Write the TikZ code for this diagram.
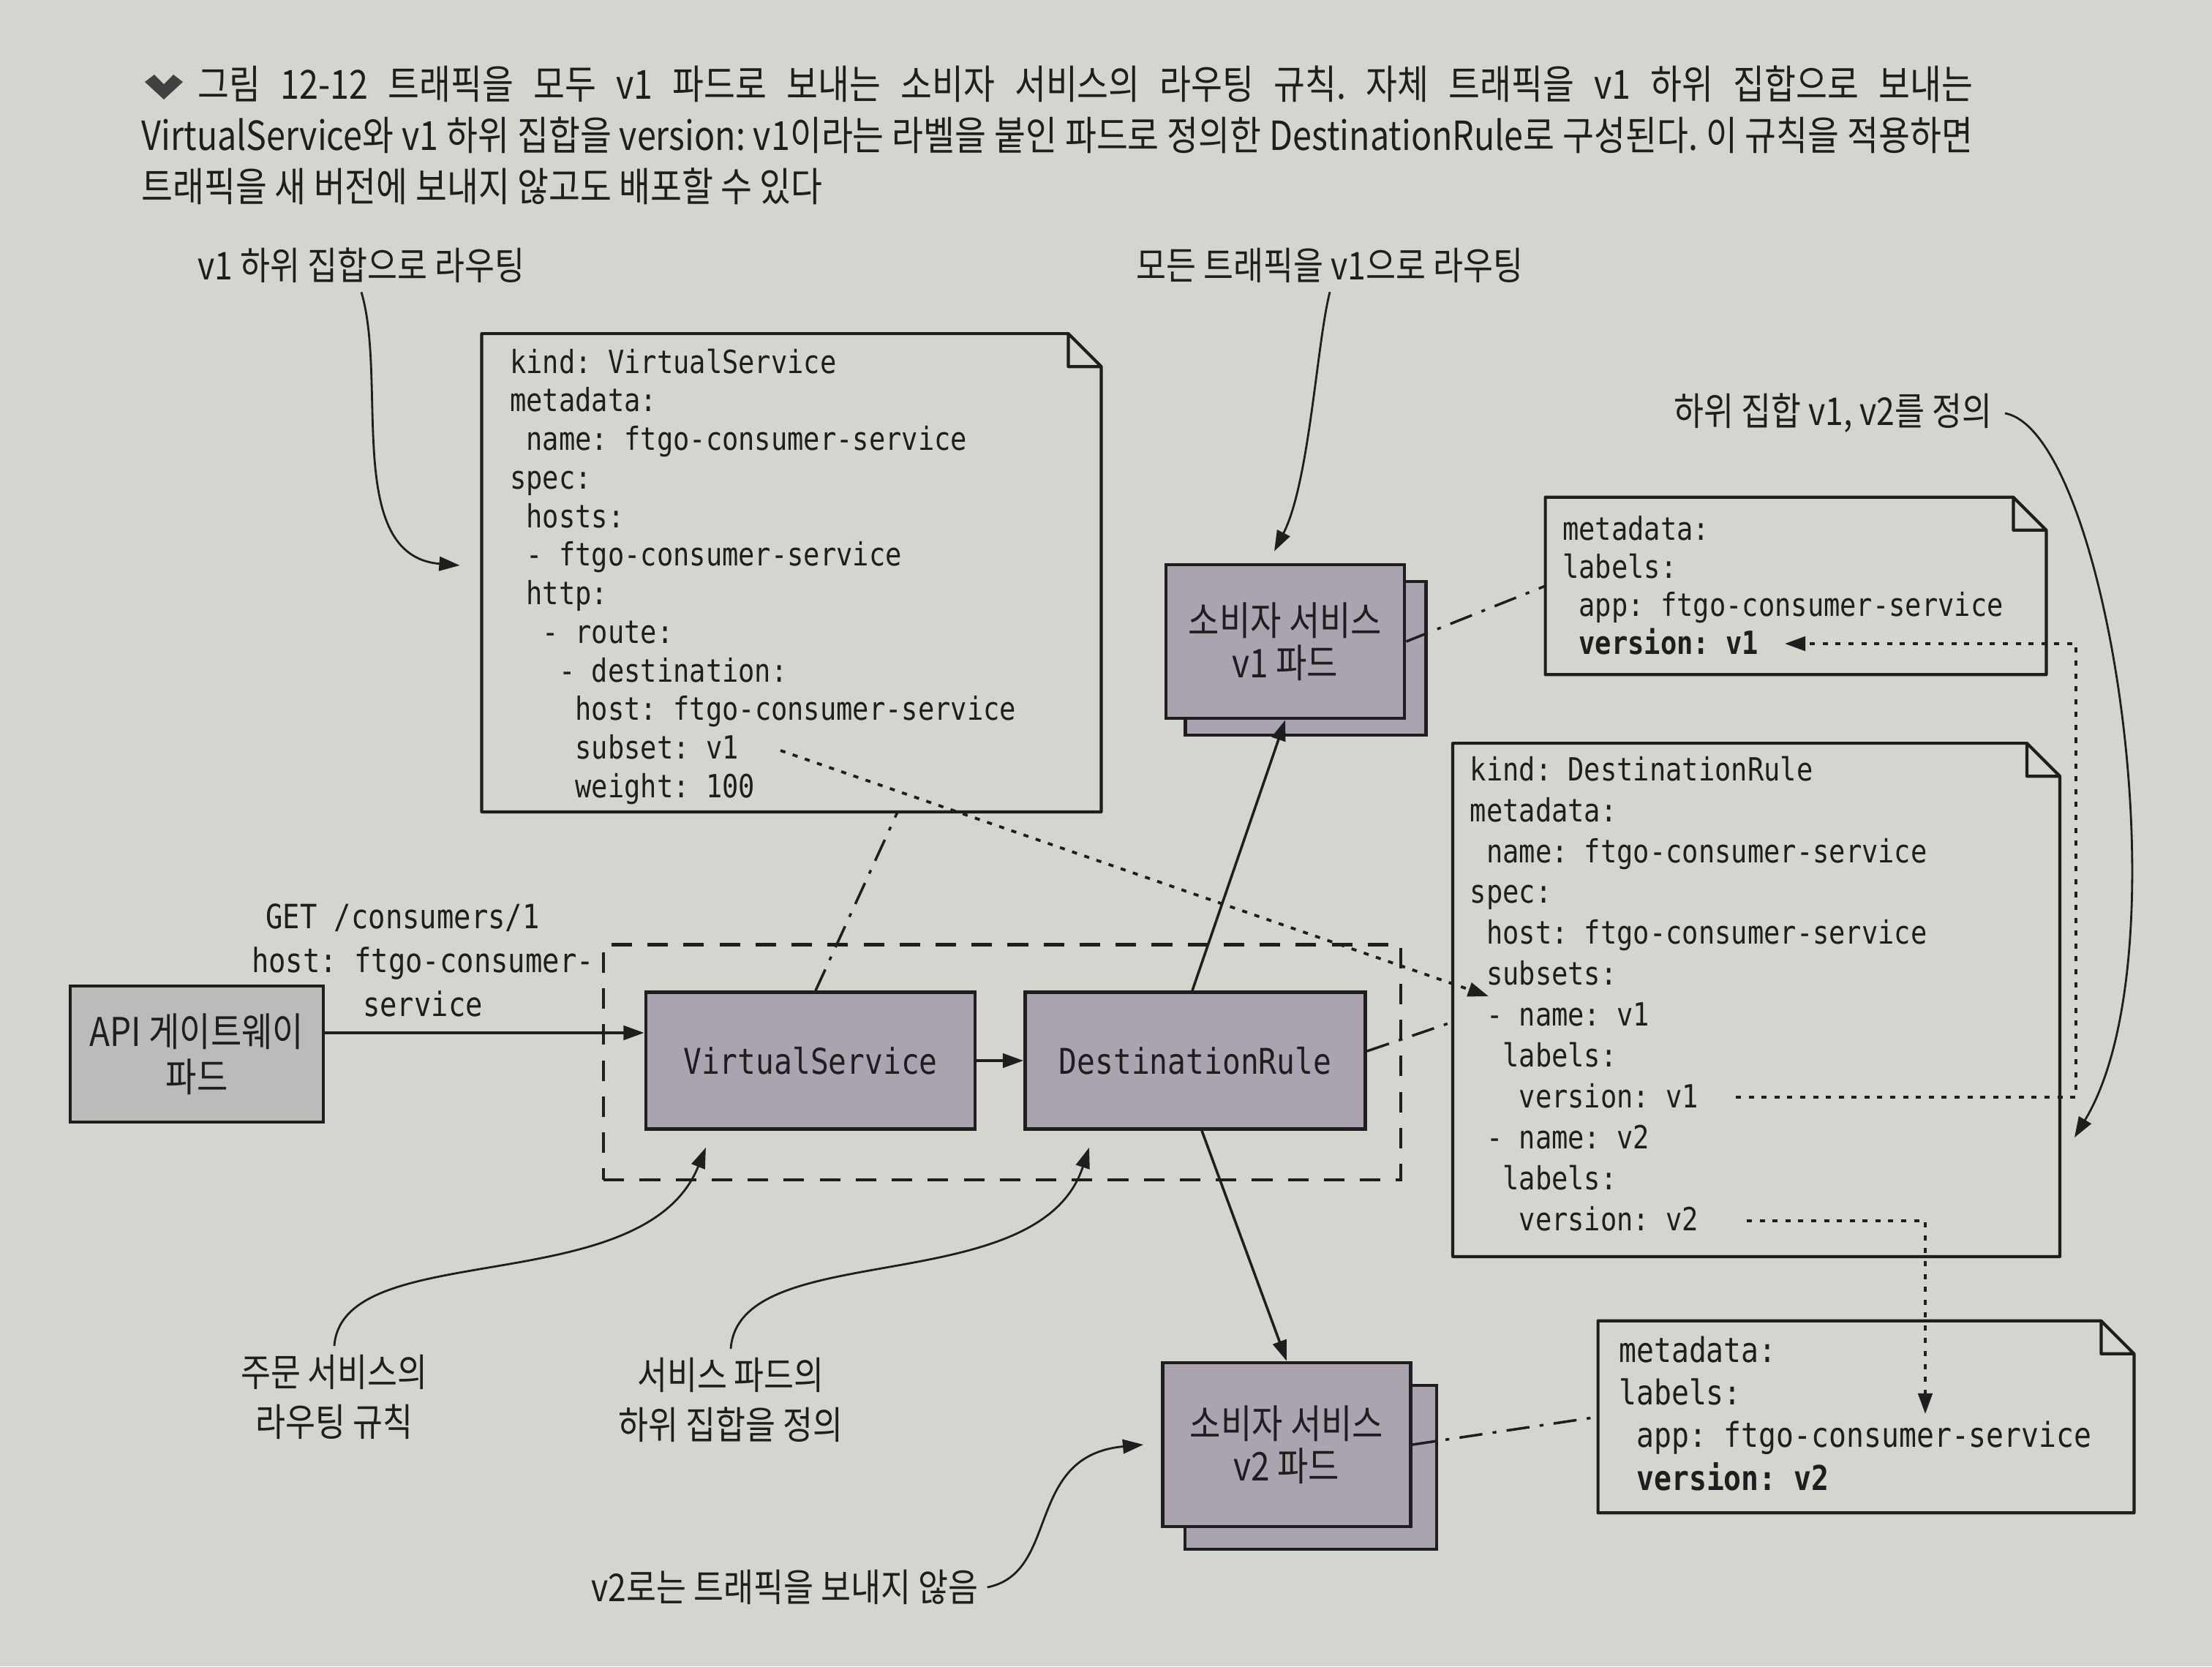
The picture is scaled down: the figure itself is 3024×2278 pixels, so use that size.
\documentclass[tikz,border=0pt]{standalone}
\usepackage{fontspec}
\setmainfont{Noto Sans CJK KR}[FakeStretch=0.85]
\newfontfamily\codefont{DejaVu Sans Mono}[FakeStretch=0.85]
\usepackage{tikz}
\usetikzlibrary{
    arrows.meta,
    calc,
    positioning
}
\frenchspacing

\definecolor{paper}{HTML}{D5D5D0}
\definecolor{podfill}{HTML}{ABA4B0}
\definecolor{gatefill}{HTML}{BBBCB9}
\definecolor{ink}{HTML}{1E1E1E}

% indentation in monospace characters
\newcommand{\indt}[1]{\hspace*{#1\fontcharwd\font`\x}}

% note outline with a folded corner
\newcommand{\foldnote}[1]{%
    \draw[notefrm] (#1.north west) -- ([xshift=-0.45cm]#1.north east)
        -- ([yshift=-0.45cm]#1.north east) -- (#1.south east) -- (#1.south west) -- cycle
        ([xshift=-0.45cm]#1.north east) -- ([xshift=-0.45cm,yshift=-0.45cm]#1.north east)
        -- ([yshift=-0.45cm]#1.north east);}

\tikzset{
    capline/.style={anchor=base west, inner sep=0pt, text=ink, font=\fontsize{15.6}{20}\selectfont},
    lbl/.style={align=center, text=ink, font=\fontsize{14.9}{19.2}\selectfont},
    podbox/.style={draw=ink, line width=1.3pt, fill=podfill, align=center, text=ink, font=\fontsize{15.4}{16.6}\selectfont},
    rulebox/.style={draw=ink, line width=1.3pt, fill=podfill, minimum height=1.87cm, text=ink, font=\codefont\fontsize{13.8}{17}\selectfont},
    gatebox/.style={draw=ink, line width=1.3pt, fill=gatefill, minimum width=3.46cm, minimum height=1.86cm, align=center, text=ink, font=\fontsize{15.4}{17.5}\selectfont},
    notebox/.style={inner sep=0pt, draw=none},
    notefrm/.style={draw=ink, line width=1.2pt, line join=round},
    code/.style={anchor=north west, inner sep=0pt, align=left, text=ink, font=\codefont\fontsize{12.4}{15}\selectfont},
    meshbox/.style={draw=ink, dash pattern=on 8pt off 6pt, line width=1.2pt, minimum width=10.89cm, minimum height=3.21cm},
    flow/.style={->, draw=ink, line width=1pt},
    callout/.style={->, draw=ink, line width=0.8pt},
    linkline/.style={draw=ink, dash pattern=on 9pt off 4pt on 1.5pt off 4pt, line width=1pt},
    dotline/.style={->, draw=ink, dash pattern=on 2pt off 3pt, line width=1.1pt}
}

\begin{document}
\begin{tikzpicture}[x=0.01cm, y=-0.01cm, >={Triangle[length=8pt,width=5.5pt]}]
    \fill[paper] (0,0) rectangle (3024,2278);
    \useasboundingbox (0,0) rectangle (3024,2278);

    % caption
    \fill[ink!85] (198,112) -- (211,102) -- (224,115) -- (237,102) -- (250,112) -- (224,136) -- cycle;
    \node[capline] (capA) at (270,135) {\makebox[24.25cm][s]{그림 12-12 트래픽을 모두 v1 파드로 보내는 소비자 서비스의 라우팅 규칙. 자체 트래픽을 v1 하위 집합으로 보내는}};
    \node[capline] (capB) at (193,205) {\makebox[25.02cm][s]{VirtualService와 v1 하위 집합을 version: v1이라는 라벨을 붙인 파드로 정의한 DestinationRule로 구성된다. 이 규칙을 적용하면}};
    \node[capline] (capC) at (193,275) {트래픽을 새 버전에 보내지 않고도 배포할 수 있다};

    % notes
    \node[notebox, minimum width=8.45cm, minimum height=6.52cm] (vsnote) at (1082,783) {};
    \foldnote{vsnote}
    \node[code] (vstext) at ([xshift=0.38cm,yshift=-0.2cm]vsnote.north west) {%
        kind: VirtualService\\
        metadata:\\
        \indt{1}name: ftgo-consumer-service\\
        spec:\\
        \indt{1}hosts:\\
        \indt{1}- ftgo-consumer-service\\
        \indt{1}http:\\
        \indt{2}- route:\\
        \indt{3}- destination:\\
        \indt{4}host: ftgo-consumer-service\\
        \indt{4}subset: v1\\
        \indt{4}weight: 100};

    \node[notebox, minimum width=6.83cm, minimum height=2.41cm] (v1note) at (2455,801) {};
    \foldnote{v1note}
    \node[code, font=\codefont\fontsize{12.4}{14.8}\selectfont] (v1text) at ([xshift=0.23cm,yshift=-0.25cm]v1note.north west) {%
        metadata:\\
        labels:\\
        \indt{1}app: ftgo-consumer-service\\
        \indt{1}\textbf{version: v1}};

    \node[notebox, minimum width=8.28cm, minimum height=7.0cm] (drnote) at (2401,1367) {};
    \foldnote{drnote}
    \node[code, font=\codefont\fontsize{12.4}{15.9}\selectfont] (drtext) at ([xshift=0.23cm,yshift=-0.17cm]drnote.north west) {%
        kind: DestinationRule\\
        metadata:\\
        \indt{1}name: ftgo-consumer-service\\
        spec:\\
        \indt{1}host: ftgo-consumer-service\\
        \indt{1}subsets:\\
        \indt{1}- name: v1\\
        \indt{2}labels:\\
        \indt{3}version: v1\\
        \indt{1}- name: v2\\
        \indt{2}labels:\\
        \indt{3}version: v2};

    \node[notebox, minimum width=7.31cm, minimum height=2.61cm] (v2note) at (2551,1937) {};
    \foldnote{v2note}
    \node[code, font=\codefont\fontsize{13.3}{16.6}\selectfont] (v2text) at ([xshift=0.28cm,yshift=-0.2cm]v2note.north west) {%
        metadata:\\
        labels:\\
        \indt{1}app: ftgo-consumer-service\\
        \indt{1}\textbf{version: v2}};

    % mesh and boxes
    \node[meshbox] (mesh) at (1370,1452) {};
    \node[gatebox] (api) at (269,1441) {API 게이트웨이\\파드};
    \node[rulebox, minimum width=4.5cm] (vs) at (1108,1450) {VirtualService};
    \node[rulebox, minimum width=4.65cm] (dr) at (1634,1450) {DestinationRule};
    \node[podbox, minimum width=3.29cm, minimum height=2.1cm] (podAback) at (1785,900) {};
    \node[podbox, minimum width=3.26cm, minimum height=2.1cm] (podA) at (1757,877) {소비자 서비스\\v1 파드};
    \node[podbox, minimum width=3.44cm, minimum height=2.24cm] (podBback) at (1792,2006) {};
    \node[podbox, minimum width=3.39cm, minimum height=2.24cm] (podB) at (1759,1975) {소비자 서비스\\v2 파드};

    \node[align=center, text=ink, font=\codefont\fontsize{13}{17}\selectfont] (req) at (578,1313) {\hspace*{-1.2em}GET /consumers/1\\host: ftgo-consumer-\\service};

    % labels
    \node[lbl] (lblA) at (494,363) {v1 하위 집합으로 라우팅};
    \node[lbl] (lblB) at (1818,363) {모든 트래픽을 v1으로 라우팅};
    \node[lbl] (lblC) at (2506,565) {하위 집합 v1, v2를 정의};
    \node[lbl] (lblD) at (457,1910) {주문 서비스의\\라우팅 규칙};
    \node[lbl] (lblE) at (999,1914) {서비스 파드의\\하위 집합을 정의};
    \node[lbl] (lblF) at (1073,2170) {v2로는 트래픽을 보내지 않음};

    % traffic
    \coordinate (reqin) at ([yshift=0.38cm]vs.west);
    \draw[flow] (api.east |- reqin) -- (reqin);
    \draw[flow] (vs) -- (dr);
    \draw[flow] ([xshift=-0.04cm]dr.north) -- (podA.south);
    \draw[flow] ([xshift=0.09cm]dr.south) -- (podB.north);

    % config links
    \draw[linkline] ([xshift=0.07cm]vs.north) -- ([xshift=1.45cm]vsnote.south);
    \draw[linkline] (podA.east) -- (v1note.west);
    \draw[linkline] ([yshift=0.13cm]dr.east) -- ([yshift=-0.3cm]drnote.west);
    \draw[linkline] (podB.east) -- (v2note.west);

    % subset references
    \coordinate (subsetv1) at (1067,1026);
    \coordinate (namev1) at (2035,1362);
    \draw[dotline] (subsetv1) -- (namev1);
    \coordinate (drv1) at (2373,1500);
    \coordinate (turnA) at (2838,1200);
    \coordinate (v1ver) at (2440,880);
    \draw[dotline] (drv1) -| (turnA) |- (v1ver);
    \coordinate (drv2) at (2388,1669);
    \coordinate (v2app) at (2632,1933);
    \draw[dotline] (drv2) -| (v2app);

    % callouts
    \draw[callout] (lblA.south) .. controls (530,520) and (470,760) .. ([xshift=-0.3cm,yshift=0.1cm]vsnote.west);
    \draw[callout] (lblB.south) .. controls (1800,470) and (1790,660) .. ([xshift=-0.15cm,yshift=0.16cm]podA.north);
    \draw[callout] ([xshift=0.05cm]lblC.east) .. controls (2880,590) and (2990,1300) .. ([xshift=0.2cm,yshift=-1.88cm]drnote.east);
    \draw[callout] (lblD.north) .. controls (468,1690) and (880,1780) .. ([xshift=-1.43cm,yshift=-0.23cm]vs.south);
    \draw[callout] (lblE.north) .. controls (1010,1690) and (1420,1780) .. ([xshift=-1.45cm,yshift=-0.23cm]dr.south);
    \draw[callout] (lblF.east) .. controls (1450,2150) and (1400,1990) .. ([xshift=-0.24cm]podB.west);
\end{tikzpicture}
\end{document}
